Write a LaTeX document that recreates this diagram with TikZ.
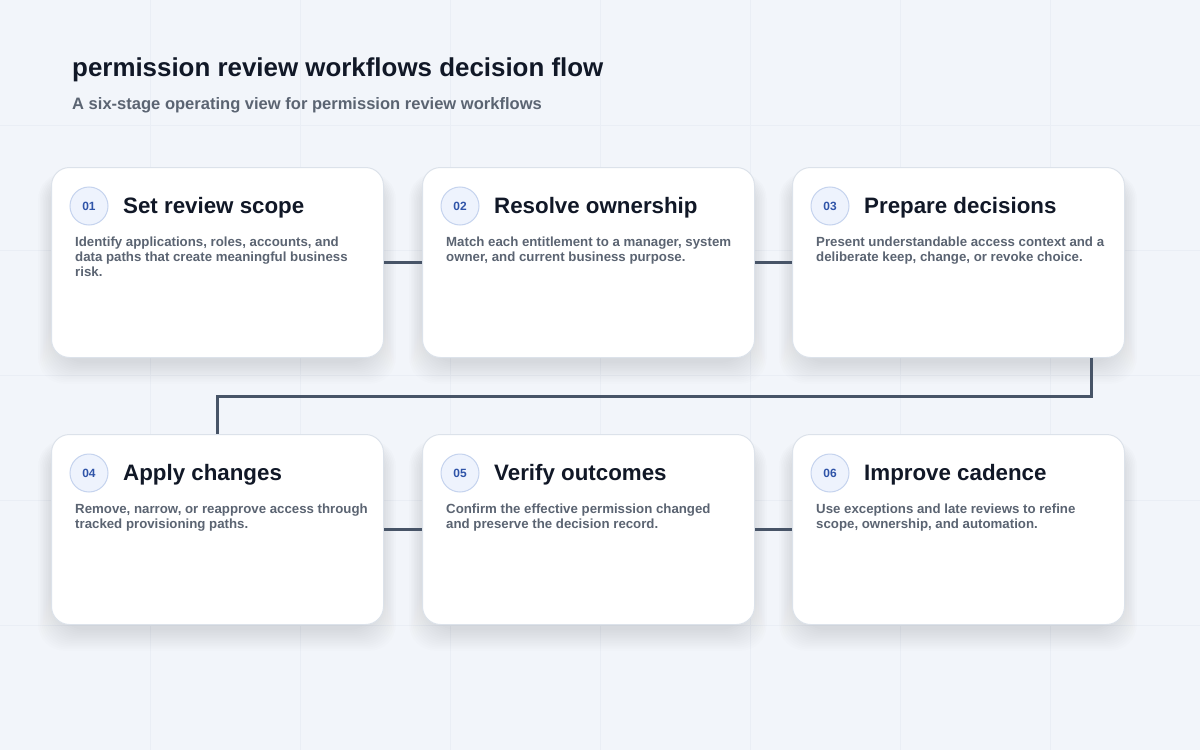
\documentclass[tikz,border=0pt]{standalone}
\usepackage{fontspec}
\setmainfont{Liberation Sans}
\definecolor{pagebg}{HTML}{F2F5FA}
\definecolor{gridline}{HTML}{EAEEF5}
\definecolor{cardline}{HTML}{DCE2EA}
\definecolor{ink}{HTML}{111827}
\definecolor{slate}{HTML}{5B6472}
\definecolor{numblue}{HTML}{2F54A8}
\definecolor{numfill}{HTML}{EEF3FD}
\definecolor{numline}{HTML}{C5D3EE}
\definecolor{linkgray}{HTML}{475467}
\definecolor{shade}{HTML}{3A4A6B}
\begin{document}
\begin{tikzpicture}[x=1bp,y=-1bp,
    card/.style={draw=cardline,line width=1bp,fill=white,rounded corners=18bp,
      minimum width=332bp,minimum height=190bp,inner sep=0pt,anchor=north west},
    num/.style={circle,draw=numline,line width=1bp,fill=numfill,minimum size=38bp,inner sep=0pt,
      text=numblue,font=\fontsize{12}{12}\selectfont\bfseries},
    head/.style={anchor=base west,inner sep=0pt,text=ink,font=\fontsize{22.4}{26}\selectfont\bfseries},
    body/.style={anchor=north west,inner sep=0pt,align=left,text=slate,
      font=\fontsize{13.3}{15}\selectfont\bfseries},
    link/.style={draw=linkgray,line width=3bp}]
  \useasboundingbox (0,0) rectangle (1200,750);
  \fill[pagebg] (0,0) rectangle (1200,750);
  \foreach \x in {150,300,...,1050}
    \draw[gridline,line width=1bp] (\x,0) -- (\x,750);
  \foreach \y in {125,250,...,625}
    \draw[gridline,line width=1bp] (0,\y) -- (1200,\y);

  \node[anchor=base west,inner sep=0pt,text=ink,font=\fontsize{26}{30}\selectfont\bfseries]
    (title) at (72,77) {permission review workflows decision flow};
  \node[anchor=base west,inner sep=0pt,text=slate,font=\fontsize{16.6}{20}\selectfont\bfseries]
    (subtitle) at (72,110) {A six-stage operating view for permission review workflows};

  \foreach \t/\b/\x/\y [count=\i] in {
    {Set review scope}/{Identify applications, roles, accounts, and\\data paths that create meaningful business\\risk.}/51/167,
    {Resolve ownership}/{Match each entitlement to a manager, system\\owner, and current business purpose.}/422/167,
    {Prepare decisions}/{Present understandable access context and a\\deliberate keep, change, or revoke choice.}/792/167,
    {Apply changes}/{Remove, narrow, or reapprove access through\\tracked provisioning paths.}/51/434,
    {Verify outcomes}/{Confirm the effective permission changed\\and preserve the decision record.}/422/434,
    {Improve cadence}/{Use exceptions and late reviews to refine\\scope, ownership, and automation.}/792/434
  }
  {
    % soft shadow under the card
    \foreach \s in {0,...,13}
      \fill[shade,opacity=0.009,rounded corners=26bp]
        (\x+8-1.6*\s,\y+14-0.6*\s) rectangle (\x+324+1.6*\s,\y+196+1.6*\s);
    \node[card] (c\i) at (\x,\y) {};
    \node[num] (n\i) at ([shift={(38,39)}]c\i.north west) {0\i};
    \node[head] (h\i) at ([shift={(72,46)}]c\i.north west) {\t};
    \node[body] (b\i) at ([shift={(24,70)}]c\i.north west) {\b};
  }

  \draw[link] (c1.east) -- (c2.west);
  \draw[link] (c2.east) -- (c3.west);
  \draw[link] ([xshift=133bp]c3.south) -- ++(0,38) -| (c4.north);
  \draw[link] (c4.east) -- (c5.west);
  \draw[link] (c5.east) -- (c6.west);
\end{tikzpicture}
\end{document}
